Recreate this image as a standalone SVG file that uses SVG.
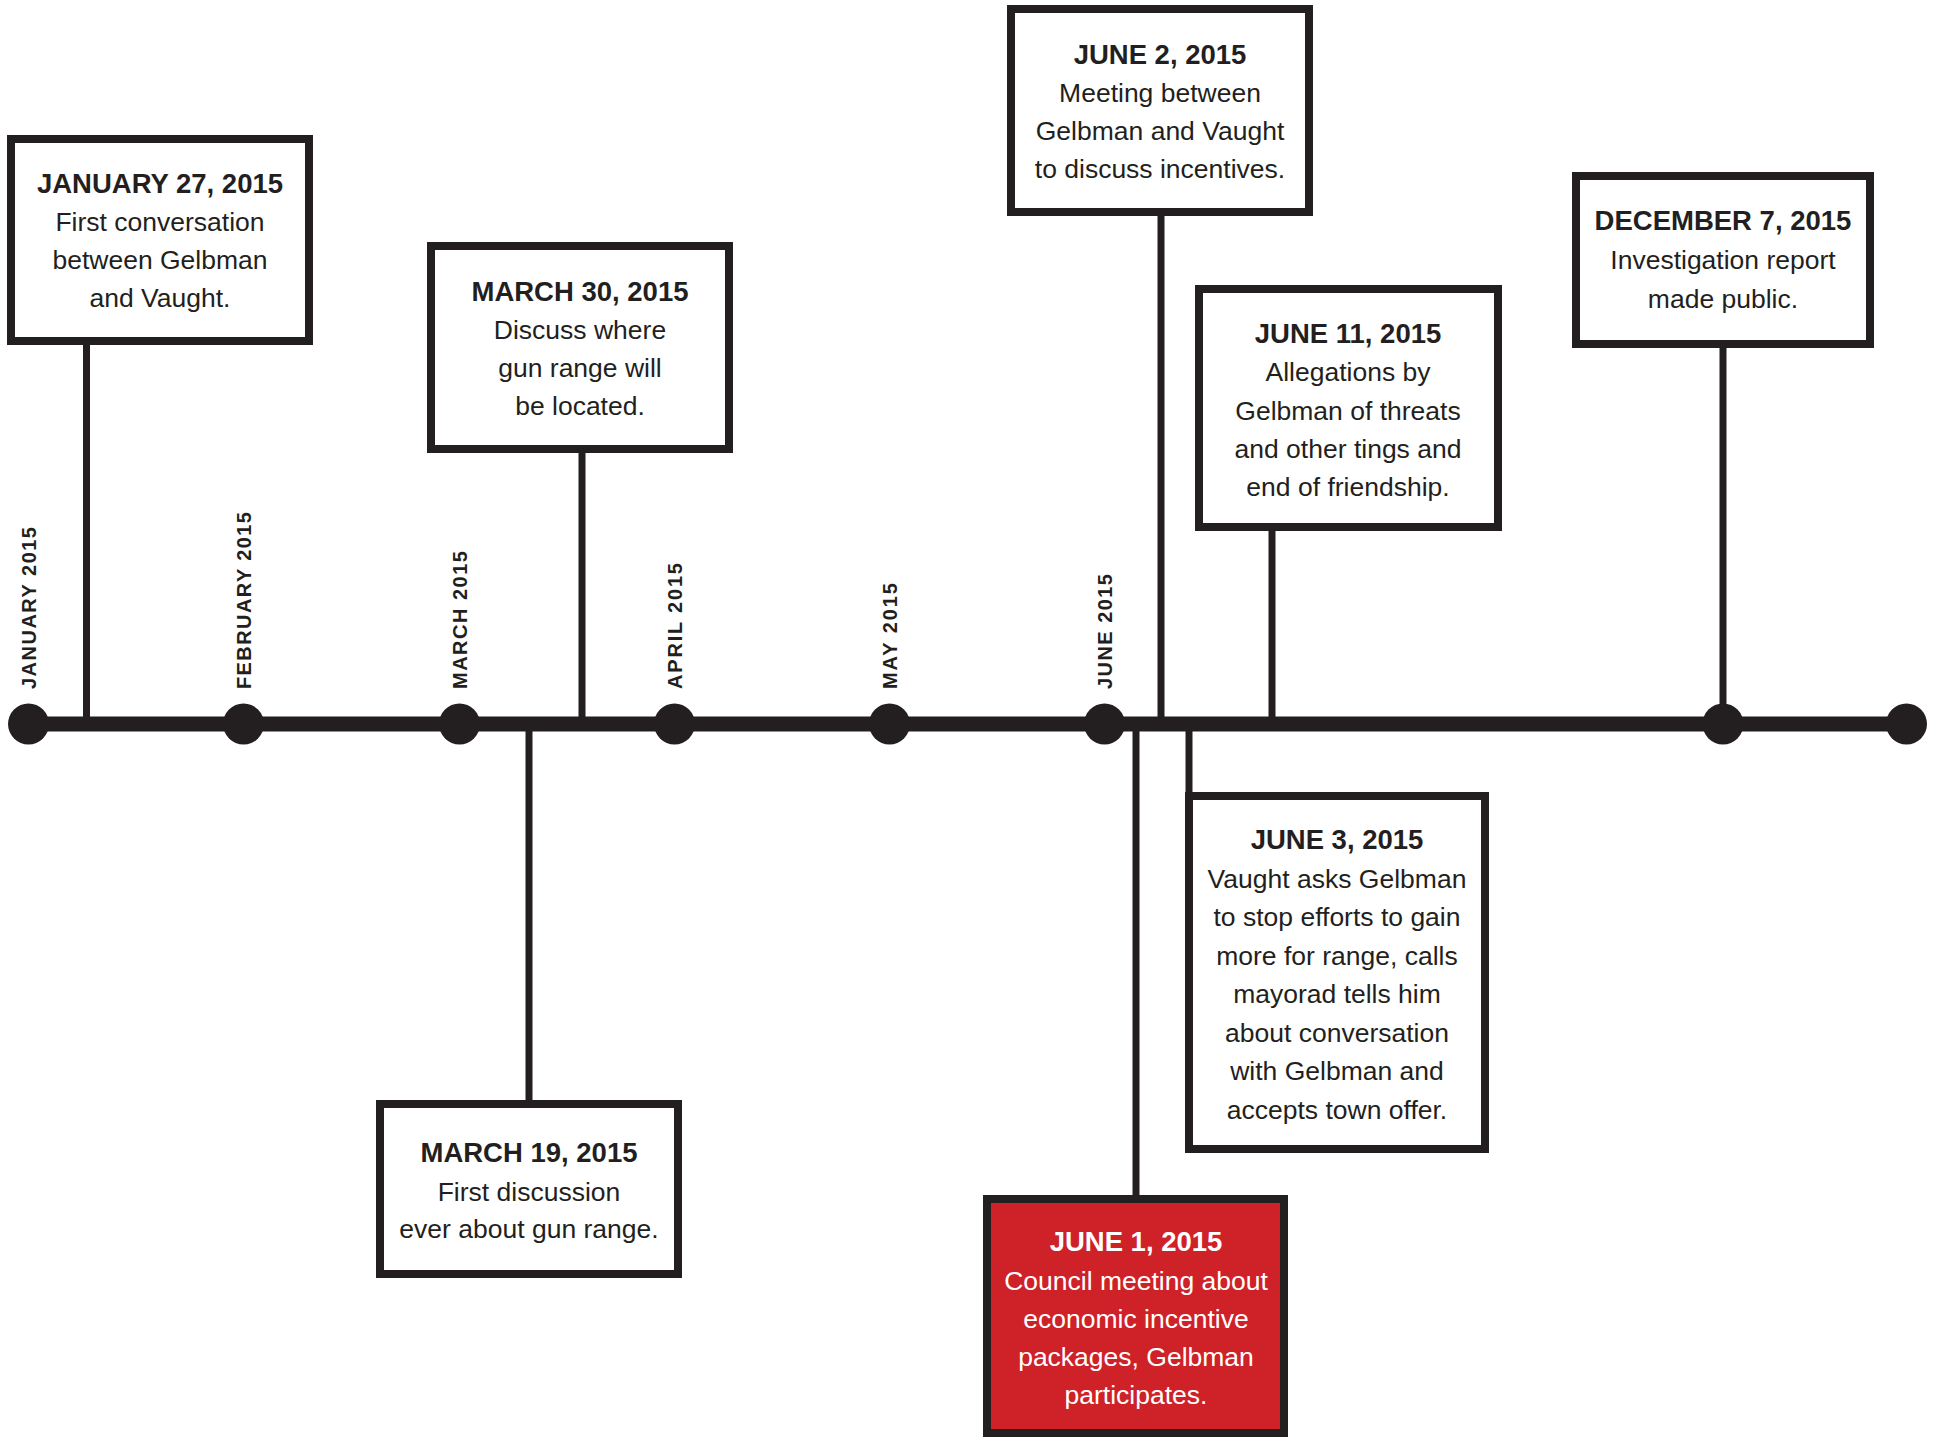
<svg xmlns="http://www.w3.org/2000/svg" width="1940" height="1437" viewBox="0 0 1940 1437">
<style>
.box{fill:#ffffff;stroke:#231f20;stroke-width:8}
.red{fill:#cf2128;stroke:#231f20;stroke-width:8}
.t{font-family:"Liberation Sans",Arial,sans-serif;font-weight:bold;font-size:27.5px;fill:#231f20;text-anchor:middle}
.b{font-family:"Liberation Sans",Arial,sans-serif;font-size:26.5px;fill:#231f20;text-anchor:middle}
.w{fill:#ffffff}
.m{font-family:"Liberation Sans",Arial,sans-serif;font-weight:bold;font-size:20px;fill:#231f20}
.c{stroke:#231f20;stroke-width:7;fill:none}
.dot{fill:#231f20}
</style>
<rect x="0" y="0" width="1940" height="1437" fill="#ffffff"/>
<g id="connectors">
<line class="c" x1="86.5" y1="345" x2="86.5" y2="724"/>
<line class="c" x1="582" y1="453" x2="582" y2="724"/>
<line class="c" x1="1161" y1="216" x2="1161" y2="724"/>
<line class="c" x1="1272" y1="531" x2="1272" y2="724"/>
<line class="c" x1="1723" y1="348" x2="1723" y2="724"/>
<line class="c" x1="529" y1="724" x2="529" y2="1100"/>
<line class="c" x1="1136" y1="724" x2="1136" y2="1195"/>
<line class="c" x1="1189" y1="724" x2="1189" y2="792"/>
</g>
<g id="timeline">
<line x1="28.5" y1="724" x2="1906.5" y2="724" stroke="#231f20" stroke-width="15"/>
<circle class="dot" cx="28.5" cy="724" r="20.5"/>
<circle class="dot" cx="243.5" cy="724" r="20.5"/>
<circle class="dot" cx="459.5" cy="724" r="20.5"/>
<circle class="dot" cx="674.5" cy="724" r="20.5"/>
<circle class="dot" cx="889.5" cy="724" r="20.5"/>
<circle class="dot" cx="1104.5" cy="724" r="20.5"/>
<circle class="dot" cx="1723" cy="724" r="20.5"/>
<circle class="dot" cx="1906.5" cy="724" r="20.5"/>
</g>
<g id="month-labels">
<text class="m" transform="translate(36,689) rotate(-90)" textLength="162" lengthAdjust="spacing">JANUARY 2015</text>
<text class="m" transform="translate(251,689) rotate(-90)" textLength="177" lengthAdjust="spacing">FEBRUARY 2015</text>
<text class="m" transform="translate(467,689) rotate(-90)" textLength="138" lengthAdjust="spacing">MARCH 2015</text>
<text class="m" transform="translate(682,689) rotate(-90)" textLength="126" lengthAdjust="spacing">APRIL 2015</text>
<text class="m" transform="translate(897,689) rotate(-90)" textLength="106" lengthAdjust="spacing">MAY 2015</text>
<text class="m" transform="translate(1112,689) rotate(-90)" textLength="115" lengthAdjust="spacing">JUNE 2015</text>
</g>
<g id="jan27">
<rect class="box" x="11" y="139" width="298" height="202"/>
<text class="t" x="160" y="193">JANUARY 27, 2015</text>
<text class="b" x="160" y="231">First conversation</text>
<text class="b" x="160" y="269">between Gelbman</text>
<text class="b" x="160" y="307">and Vaught.</text>
</g>
<g id="mar30">
<rect class="box" x="431" y="246" width="298" height="203"/>
<text class="t" x="580" y="301">MARCH 30, 2015</text>
<text class="b" x="580" y="339">Discuss where</text>
<text class="b" x="580" y="377">gun range will</text>
<text class="b" x="580" y="414.5">be located.</text>
</g>
<g id="jun2">
<rect class="box" x="1011" y="9" width="298" height="203"/>
<text class="t" x="1160" y="64">JUNE 2, 2015</text>
<text class="b" x="1160" y="102">Meeting between</text>
<text class="b" x="1160" y="140">Gelbman and Vaught</text>
<text class="b" x="1160" y="177.5">to discuss incentives.</text>
</g>
<g id="jun11">
<rect class="box" x="1199" y="289" width="299" height="238"/>
<text class="t" x="1348" y="343">JUNE 11, 2015</text>
<text class="b" x="1348" y="381">Allegations by</text>
<text class="b" x="1348" y="419.5">Gelbman of threats</text>
<text class="b" x="1348" y="458">and other tings and</text>
<text class="b" x="1348" y="496">end of friendship.</text>
</g>
<g id="dec7">
<rect class="box" x="1576" y="176" width="294" height="168"/>
<text class="t" x="1723" y="230">DECEMBER 7, 2015</text>
<text class="b" x="1723" y="269">Investigation report</text>
<text class="b" x="1723" y="307.5">made public.</text>
</g>
<g id="mar19">
<rect class="box" x="380" y="1104" width="298" height="170"/>
<text class="t" x="529" y="1162">MARCH 19, 2015</text>
<text class="b" x="529" y="1201">First discussion</text>
<text class="b" x="529" y="1238">ever about gun range.</text>
</g>
<g id="jun1">
<rect class="red" x="987" y="1199" width="297" height="234"/>
<text class="t w" x="1136" y="1251">JUNE 1, 2015</text>
<text class="b w" x="1136" y="1290">Council meeting about</text>
<text class="b w" x="1136" y="1328">economic incentive</text>
<text class="b w" x="1136" y="1366">packages, Gelbman</text>
<text class="b w" x="1136" y="1404">participates.</text>
</g>
<g id="jun3">
<rect class="box" x="1189" y="796" width="296" height="353"/>
<text class="t" x="1337" y="849">JUNE 3, 2015</text>
<text class="b" x="1337" y="887.5">Vaught asks Gelbman</text>
<text class="b" x="1337" y="926">to stop efforts to gain</text>
<text class="b" x="1337" y="964.5">more for range, calls</text>
<text class="b" x="1337" y="1003">mayorad tells him</text>
<text class="b" x="1337" y="1041.5">about conversation</text>
<text class="b" x="1337" y="1080">with Gelbman and</text>
<text class="b" x="1337" y="1118.5">accepts town offer.</text>
</g>
</svg>
